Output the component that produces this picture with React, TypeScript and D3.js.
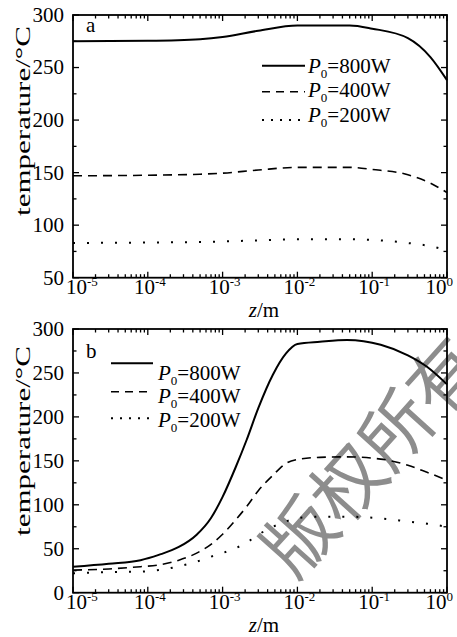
import React, { useEffect, useRef } from "react";
import * as d3 from "d3";

// panel a: z positions (m) and temperatures (°C)
const zA = [1e-5, 1e-4, 5e-4, 1e-3, 3e-3, 1e-2, 5e-2, 1e-1, 3e-1, 6e-1, 1];
const a800 = [275, 275.5, 277, 279, 285, 290, 290, 287, 278, 260, 238];
const a400 = [147, 147.5, 148.5, 149.5, 152.5, 155, 155, 153, 148, 140, 131];
const a200 = [83, 83.5, 84, 84.5, 85.5, 86.5, 86.5, 86, 83, 80, 76];

// panel b
const zB = [1e-5, 3e-5, 8e-5, 1.4e-4, 2.6e-4, 4.5e-4, 7e-4, 1e-3, 1.5e-3, 2.1e-3, 3e-3, 4.7e-3, 7e-3, 1e-2, 2e-2, 4.6e-2, 1.3e-1, 3e-1, 5.4e-1, 1];
const b800 = [29.5, 33, 37, 43, 52, 66, 85, 109, 143, 174, 210, 248, 272, 283, 285.5, 287.5, 282, 270, 257, 237];
const b400 = [25.7, 27, 29.6, 31.5, 37, 45, 55, 66.5, 83, 98, 116, 133.5, 147, 151.5, 154, 154.5, 152, 145, 137, 128];
const b200 = [22, 23.5, 24, 25.8, 30, 35.4, 41, 45.2, 50.8, 57, 66, 75, 81, 85, 86.5, 86.5, 84.5, 81, 78.5, 75];

const powers = [-5, -4, -3, -2, -1, 0];
const yTicksA = [50, 100, 150, 200, 250, 300];
const yTicksB = [0, 50, 100, 150, 200, 250, 300];
const powerLabels = ["800W", "400W", "200W"];

const W = 457, H = 637;
const left = 73, right = 447;
const dashes = [null, "9,6", "2,12"];
const widths = [2, 1.6, 2];

function drawPanel(svg, p) {
  const x = d3.scaleLog().domain([1e-5, 1]).range([left, right]);
  const y = d3.scaleLinear().domain(p.yDomain).range([p.bottom, p.top]);
  const g = svg.append("g");

  // curves
  const line = d3.line().x((d) => x(d[0])).y((d) => y(d[1])).curve(d3.curveMonotoneX);
  p.series.forEach((vals, i) => {
    const pts = p.z.map((z, j) => [z, vals[j]]);
    g.append("path").attr("d", line(pts)).attr("fill", "none").attr("stroke", "#000")
      .attr("stroke-width", widths[i]).attr("stroke-dasharray", dashes[i]);
  });

  // frame
  g.append("rect").attr("x", left).attr("y", p.top).attr("width", right - left).attr("height", p.bottom - p.top)
    .attr("fill", "none").attr("stroke", "#000").attr("stroke-width", 1.8);

  // x ticks (log, inward, bottom + top)
  const xt = [];
  powers.forEach((e) => {
    xt.push({ v: Math.pow(10, e), major: true });
    if (e < 0) for (let k = 2; k <= 9; k++) xt.push({ v: k * Math.pow(10, e), major: false });
  });
  xt.forEach((t) => {
    const len = t.major ? 6 : 3.5;
    g.append("line").attr("x1", x(t.v)).attr("x2", x(t.v)).attr("y1", p.bottom).attr("y2", p.bottom - len)
      .attr("stroke", "#000").attr("stroke-width", 1.3);
    g.append("line").attr("x1", x(t.v)).attr("x2", x(t.v)).attr("y1", p.top).attr("y2", p.top + len)
      .attr("stroke", "#000").attr("stroke-width", 1.3);
  });

  // y ticks every 25, labels every 50
  for (let v = p.yDomain[0]; v <= p.yDomain[1]; v += 25) {
    const len = v % 50 === 0 ? 6 : 3.5;
    g.append("line").attr("x1", left).attr("x2", left + len).attr("y1", y(v)).attr("y2", y(v)).attr("stroke", "#000").attr("stroke-width", 1.3);
    g.append("line").attr("x1", right).attr("x2", right - len).attr("y1", y(v)).attr("y2", y(v)).attr("stroke", "#000").attr("stroke-width", 1.3);
  }
  g.selectAll(".ylab").data(p.yTicks).join("text").attr("class", "ylab")
    .attr("x", left - 9).attr("y", (d) => y(d)).attr("dy", "0.33em").attr("text-anchor", "end")
    .attr("font-size", 21).text((d) => d);

  // x tick labels 10^n
  powers.forEach((e, i) => {
    const px = x(Math.pow(10, e));
    const t = g.append("text").attr("y", p.bottom + 16.5).attr("font-size", 21);
    if (i === 0) t.attr("x", px - 7).attr("text-anchor", "start");
    else if (i === powers.length - 1) t.attr("x", px + 6).attr("text-anchor", "end");
    else t.attr("x", px + 2).attr("text-anchor", "middle");
    t.append("tspan").text("10");
    t.append("tspan").attr("dy", -8).attr("font-size", 13).text(e === 0 ? "0" : "-" + Math.abs(e));
  });

  // axis titles
  const xl = g.append("text").attr("x", 264).attr("y", p.bottom + 39).attr("text-anchor", "middle").attr("font-size", 21);
  xl.append("tspan").attr("font-style", "italic").text("z");
  xl.append("tspan").text("/m");

  g.append("text").attr("transform", `translate(30,${p.yLabelCenter}) rotate(-90)`).attr("text-anchor", "middle")
    .attr("textLength", 190).attr("lengthAdjust", "spacingAndGlyphs")
    .attr("font-size", 22).text("temperature/°C");

  // panel letter
  g.append("text").attr("x", 86).attr("y", p.letterY).attr("font-size", 21).text(p.letter);

  // legend
  powerLabels.forEach((lab, i) => {
    g.append("line").attr("x1", p.legX1).attr("x2", p.legX2).attr("y1", p.legLineY[i]).attr("y2", p.legLineY[i])
      .attr("stroke", "#000").attr("stroke-width", widths[i])
      .attr("stroke-dasharray", i === 0 ? null : i === 1 ? "8,6" : "2,7");
    const t = g.append("text").attr("x", p.legTextX).attr("y", p.legTextY[i]).attr("font-size", 21);
    t.append("tspan").attr("font-style", "italic").text("P");
    t.append("tspan").attr("dy", 5).attr("font-size", 13).text("0");
    t.append("tspan").attr("dy", -5).text("=" + lab);
  });
}

export default function App() {
  const ref = useRef(null);

  useEffect(() => {
    const svg = d3.select(ref.current);
    svg.selectAll("*").remove();

    svg.append("rect").attr("width", W).attr("height", H).attr("fill", "#fff");

    // watermark (under the plot lines)
    svg.append("text").attr("transform", "translate(300,537) rotate(-48)").attr("x", -36).attr("y", 26)
      .attr("font-family", "Noto Sans CJK SC").attr("font-size", 72).attr("fill", "#8d8d8d")
      .text("版权所有");

    drawPanel(svg, {
      top: 15, bottom: 277.7, yDomain: [50, 300], yTicks: yTicksA,
      z: zA, series: [a800, a400, a200], letter: "a", letterY: 31.7, yLabelCenter: 121,
      legX1: 262, legX2: 305, legTextX: 308, legLineY: [65.7, 91.7, 120], legTextY: [73, 97, 121.7],
    });
    drawPanel(svg, {
      top: 329, bottom: 592.7, yDomain: [0, 300], yTicks: yTicksB,
      z: zB, series: [b800, b400, b200], letter: "b", letterY: 358, yLabelCenter: 441,
      legX1: 111, legX2: 153, legTextX: 158, legLineY: [363.3, 391.7, 418.3], legTextY: [380, 403.3, 426.7],
    });
  }, []);

  return (
    <svg ref={ref} width={W} height={H} fontFamily="Liberation Serif, serif"
      style={{ position: "absolute", left: 0, top: 0 }} />
  );
}
